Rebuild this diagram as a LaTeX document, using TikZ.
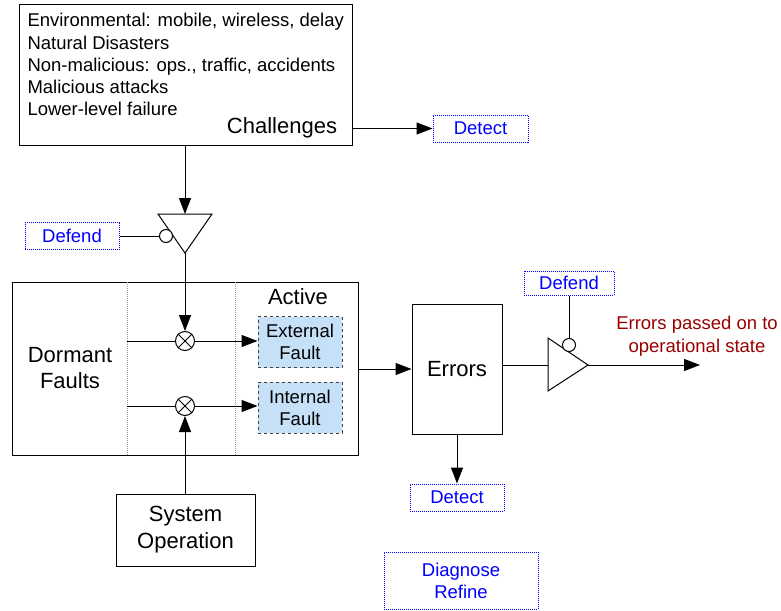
\documentclass[tikz,border=0pt]{standalone}
\usepackage{fontspec}
\setmainfont{Liberation Sans}
\usetikzlibrary{arrows.meta,positioning}
\definecolor{faultblue}{RGB}{198,224,247}
\definecolor{errred}{RGB}{153,0,0}
\definecolor{actblue}{RGB}{0,0,255}
\newcommand{\smallfont}{\fontsize{18.5}{22}\selectfont}
\newcommand{\bigfont}{\fontsize{22}{26}\selectfont}

\begin{document}
\begin{tikzpicture}
    [x=1pt, y=-1pt, line width=1pt,
    >={Triangle[length=16pt,width=12pt]},
    box/.style={draw, inner sep=0pt, font=\bigfont, align=center},
    action/.style={draw=actblue, densely dotted, text=actblue, font=\smallfont, inner sep=0pt, align=center},
    fault/.style={draw=black!75, dashed, fill=faultblue, font=\smallfont, align=center, inner sep=0pt,
        minimum width=84pt, minimum height=51pt},
    mult/.style={draw, circle, inner sep=0pt, minimum size=19pt},
    notch/.style={draw, circle, fill=white, inner sep=0pt, minimum size=13pt},
    divider/.style={draw=gray!80, densely dotted},
    ]
    \useasboundingbox (0,0) rectangle (781,610);

    % challenges
    \node[box, minimum width=333pt, minimum height=140pt] (chal) at (185.5,75) {};
    \foreach \txt [count=\i] in {{Environmental: mobile, wireless, delay}, {Natural Disasters},
        {Non-malicious: ops., traffic, accidents}, {Malicious attacks}, {Lower-level failure}}
        \node[anchor=base west, inner sep=0pt, font=\smallfont] (cause\i) at (27,5+22*\i) {\txt};
    \node[anchor=base, inner sep=0pt, font=\bigfont] (chaltxt) at (282,133) {Challenges};

    \node[action, minimum width=95pt, minimum height=27pt] (det1) at (480.5,128.5) {Detect};
    \draw[->] (chal.east |- det1) -- (det1.west);

    % first gate
    \coordinate (g1a) at (158,214);
    \coordinate (g1b) at (212,214);
    \coordinate (g1tip) at (185,253);
    \coordinate (g1top) at (185,214);
    \draw (g1a) -- (g1b) -- (g1tip) -- cycle;
    \node[notch] (g1n) at (166,236) {};
    \draw[->] (chal.south -| g1top) -- (g1top);

    \node[action, minimum width=94pt, minimum height=27pt] (def1) at (72,236) {Defend};
    \draw (def1.east) -- (g1n.west);

    % faults
    \node[draw, inner sep=0pt, minimum width=346pt, minimum height=173pt] (dorm) at (185,368.5) {};
    \coordinate (div1) at (127,282);
    \coordinate (div2) at (235,282);
    \draw[divider] (div1) -- (div1 |- dorm.south);
    \draw[divider] (div2) -- (div2 |- dorm.south);
    \node[font=\bigfont, align=center] (dormtxt) at (70,368) {Dormant\\Faults};
    \node[font=\bigfont, inner sep=0pt] (acttxt) at (298,297) {Active};

    \node[fault] (ext) at (300,342) {External\\Fault};
    \node[fault] (int) at (300,407.5) {Internal\\Fault};

    \node[mult] (m1) at (185,341) {};
    \node[mult] (m2) at (185,406) {};
    \foreach \m in {m1,m2}
        \draw (\m.45) -- (\m.225) (\m.135) -- (\m.315);
    \draw (div1 |- m1) -- (m1.west);
    \draw (div1 |- m2) -- (m2.west);
    \draw[->] (m1.east) -- (m1.east -| ext.west);
    \draw[->] (m2.east) -- (m2.east -| int.west);
    \draw[->] (g1tip) -- (m1.north);

    \node[box, minimum width=139pt, minimum height=72pt, font=\fontsize{22}{27}\selectfont]
        (sys) at (185.5,530) {System\\Operation};
    \draw[->] (sys.north -| m2) -- (m2.south);

    % errors
    \node[box, minimum width=90pt, minimum height=130pt] (err) at (457,369) {Errors};
    \draw[->] (dorm.east |- err) -- (err.west);
    \node[action, minimum width=94pt, minimum height=27pt] (det2) at (457,497.5) {Detect};
    \draw[->] (err.south) -- (det2.north);

    % second gate
    \coordinate (g2a) at (548,338);
    \coordinate (g2b) at (548,391);
    \coordinate (g2tip) at (588,365);
    \coordinate (g2in) at (548,365);
    \draw (g2a) -- (g2tip) -- (g2b) -- cycle;
    \node[notch] (g2n) at (569,345) {};
    \draw (err.east |- g2in) -- (g2in);

    \node[action, minimum width=90pt, minimum height=24pt] (def2) at (569,283) {Defend};
    \draw (def2.south) -- (g2n.north);

    \coordinate (out) at (700,365);
    \draw[->] (g2tip) -- (out);
    \node[text=errred, font=\fontsize{18.5}{23}\selectfont, align=center] (outtxt) at (697,336)
        {Errors passed on to\\operational state};

    \node[action, minimum width=154pt, minimum height=57pt] (diag) at (461,580.5) {Diagnose\\Refine};
\end{tikzpicture}
\end{document}
